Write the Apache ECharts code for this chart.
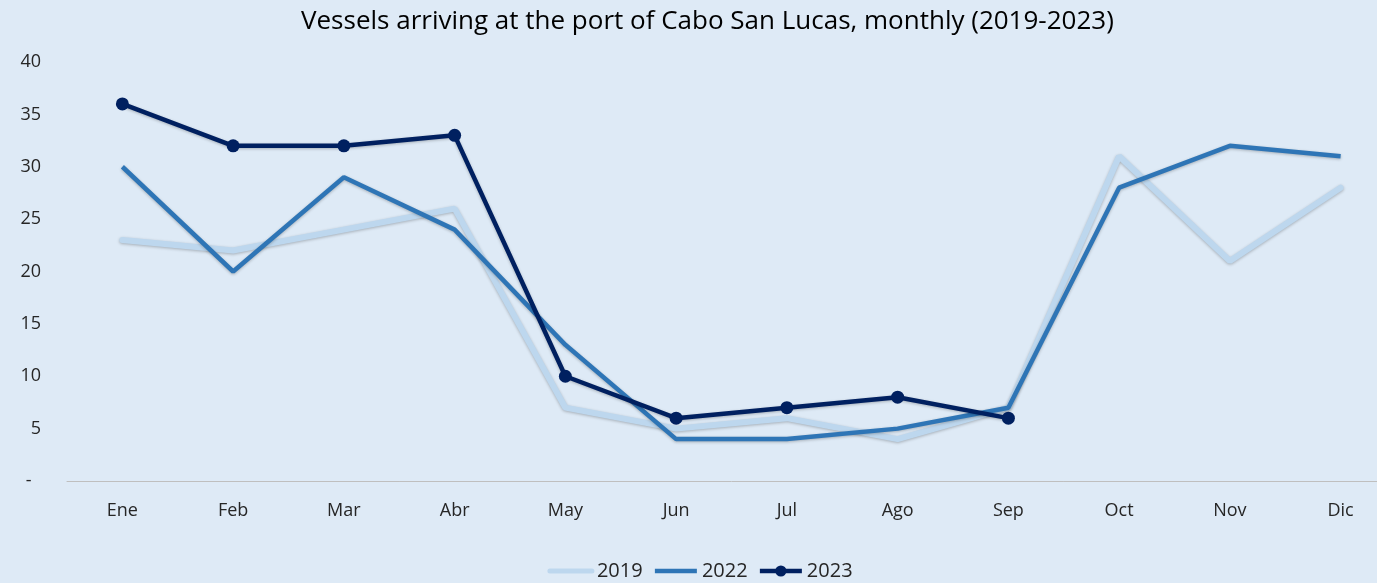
<!DOCTYPE html>
<html>
<head>
<meta charset="utf-8">
<script src="https://cdn.jsdelivr.net/npm/echarts@6/dist/echarts.min.js"></script>
<style>
html,body{margin:0;padding:0;background:#deeaf6;overflow:hidden;}
#chart{width:1400px;height:583px;}
</style>
</head>
<body>
<div id="chart"></div>
<script>
var months = ['Ene','Feb','Mar','Abr','May','Jun','Jul','Ago','Sep','Oct','Nov','Dic'];
var vessels2019 = [23, 22, 24, 26, 7, 5, 6, 4, 7, 31, 21, 28];
var vessels2022 = [30, 20, 29, 24, 13, 4, 4, 5, 7, 28, 32, 31];
var vessels2023 = [36, 32, 32, 33, 10, 6, 7, 8, 6, null, null, null];

var myChart = echarts.init(document.getElementById('chart'));
var lineShadow = {shadowColor:'rgba(0,0,0,0.25)', shadowBlur:3, shadowOffsetY:1};
var option = {
    backgroundColor:'#deeaf6',
    textStyle:{fontFamily:'Open Sans'},
    title:{
        text:'Vessels arriving at the port of Cabo San Lucas, monthly (2019-2023)',
        left:296,
        top:4,
        textStyle:{fontSize:26, fontWeight:'normal', color:'#000', fontFamily:'Open Sans'}
    },
    legend:{
        bottom:-3,
        left:'center',
        itemWidth:42,
        itemHeight:14,
        itemGap:10,
        textStyle:{fontSize:20, color:'#262626'},
        data:[
            {name:'2019', itemStyle:{opacity:0}, lineStyle:{width:5}},
            {name:'2022', itemStyle:{opacity:0}, lineStyle:{width:4.5}},
            {name:'2023', lineStyle:{width:4.5}}
        ]
    },
    grid:{left:67, right:4, top:62, bottom:102},
    xAxis:{
        type:'category',
        data:months,
        axisTick:{show:false},
        axisLine:{lineStyle:{color:'#bfbfbf', width:1}},
        axisLabel:{fontSize:18, color:'#262626', margin:21}
    },
    yAxis:{
        type:'value',
        min:0,
        max:40,
        interval:5,
        splitLine:{show:false},
        axisLine:{show:false},
        axisLabel:{
            fontSize:18, color:'#262626', margin:26,
            formatter:function(v){ return v === 0 ? '-  ' : v; }
        }
    },
    series:[
        {
            name:'2019', type:'line', data:vessels2019, symbol:'none',
            color:'#bdd7ee',
            lineStyle:Object.assign({width:6, color:'#bdd7ee', cap:'round'}, lineShadow)
        },
        {
            name:'2022', type:'line', data:vessels2022, symbol:'none',
            color:'#2e75b6',
            lineStyle:Object.assign({width:4.5, color:'#2e75b6'}, lineShadow)
        },
        {
            name:'2023', type:'line', data:vessels2023, symbol:'circle', symbolSize:13,
            color:'#002060',
            itemStyle:{color:'#002060'},
            lineStyle:Object.assign({width:4.5, color:'#002060'}, lineShadow)
        }
    ]
};
myChart.setOption(option, true);
</script>
</body>
</html>
